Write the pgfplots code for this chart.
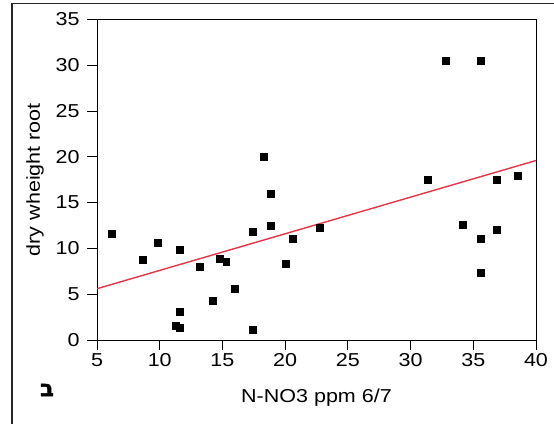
\documentclass[border=0pt]{standalone}
\usepackage{pgfplots}
\pgfplotsset{compat=1.18}
\usepackage{fontspec}
\setmainfont{Liberation Sans}[FakeStretch=1.15]
\newfontfamily\hebfont[Script=Hebrew, FakeBold=2.5]{DejaVu Sans Bold}
\TeXXeTstate=1
\definecolor{regred}{RGB}{232,52,72}
\pgfplotstableread{
x y
6.17 11.6
8.64 8.77
9.84 10.63
11.6 9.86
11.6 3.09
11.28 1.53
11.6 1.31
13.2 8.0
14.2 4.3
14.8 8.85
15.3 8.55
15.98 5.6
17.4 11.83
17.4 1.13
18.3 20.0
18.85 15.98
18.85 12.5
20.05 8.34
20.6 11.07
22.76 12.27
31.37 17.5
32.83 30.5
35.6 30.5
34.16 12.6
35.6 11.06
35.6 7.35
36.87 17.5
36.87 12.05
38.55 17.94
}\pts
\begin{document}
\begin{tikzpicture}
\useasboundingbox (0pt,0pt) rectangle (554pt,423pt);
\draw[line width=1.4pt, black!85] (12pt,-5pt) -- (12pt,419.7pt) -- (560pt,419.7pt);
\begin{axis}[
  at={(97pt,83pt)}, anchor=south west,
  width=439pt, height=320.5pt, scale only axis,
  xmin=5, xmax=40, ymin=0, ymax=35,
  xtick={5,10,...,40}, ytick={0,5,...,35},
  xtick pos=bottom, ytick pos=left,
  tick align=outside, major tick length=10pt,
  axis line style={line width=0.9pt},
  tick style={black, line width=0.9pt},
  /pgf/number format/assume math mode=true,
  every tick label/.append style={font=\fontsize{18.7}{22}\selectfont},
  yticklabel style={xshift=-4pt},
  label style={font=\fontsize{18.7}{22}\selectfont},
  xlabel={N-NO3 ppm 6/7},
  ylabel={dry wheight root},
  xlabel style={at={(axis description cs:0.5,0)}, anchor=base, yshift=-63pt},
  ylabel style={at={(axis description cs:0,0.5)}, anchor=base, rotate=0, yshift=57pt},
]
\addplot[only marks, mark=square*, mark size=3.4pt, mark options={fill=black, draw=black, line width=0.5pt}] table[x=x,y=y] {\pts};
\addplot[regred, line width=1.4pt] coordinates {(5,5.6) (40,19.6)};
\end{axis}
\node[font=\hebfont\fontsize{22}{26}\selectfont, inner sep=0pt] at (47pt,33pt) {\beginR ב\endR};
\end{tikzpicture}
\end{document}
